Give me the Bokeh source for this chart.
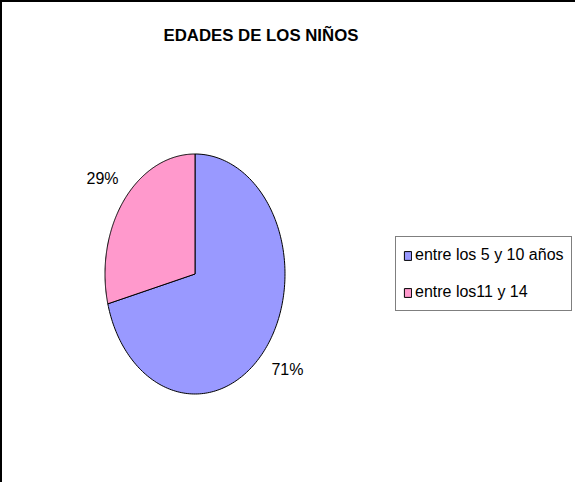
import numpy as np
from bokeh.plotting import figure
from bokeh.models import Range1d, ColumnDataSource, Legend, LegendItem
from bokeh.core.properties import value
from bokeh.embed import file_html
from bokeh.resources import INLINE

# ---- data ----
categories = ["entre los 5 y 10 años", "entre los11 y 14"]
values = [71, 29]
colors = ["#9999FF", "#FF99CC"]
title_text = "EDADES DE LOS NIÑOS"

# ---- geometry (pixels, page coordinates) ----
BORDER = 2
W, H = 575, 482
TOP = 47                       # title band above the frame
cx_page, cy_page = 202.5, 281.5
rx, ry = 90.0, 120.0           # pie drawn stretched vertically like the original
frame_left, frame_right = 8 + BORDER, 8 + BORDER + W
frame_top, frame_bottom = 8 + BORDER + TOP, 8 + BORDER + H

x_range = Range1d((frame_left - cx_page) / rx, (frame_right - cx_page) / rx)
y_range = Range1d((cy_page - frame_bottom) / ry, (cy_page - frame_top) / ry)

p = figure(width=W, height=H, x_range=x_range, y_range=y_range,
           output_backend="svg", toolbar_location=None,
           x_axis_type=None, y_axis_type=None,
           min_border_left=0, min_border_right=0, min_border_bottom=0,
           min_border_top=TOP)
p.grid.visible = False
p.outline_line_color = None
p.background_fill_color = "white"
p.border_fill_color = "white"
p.styles = {"border-left": "2px solid #000", "border-top": "2px solid #000"}

p.title.text = title_text
p.title.text_font = "Liberation Sans"
p.title.text_font_size = "16.8px"
p.title.text_font_style = "bold"
p.title.text_color = "black"
p.title.align = "left"
p.title.offset = 161

# ---- slices (unit circle; starting at 12 o'clock, clockwise) ----
total = float(sum(values))
fracs = [v / total for v in values]
xs, ys, lx, ly, ltxt = [], [], [], [], []
start = np.pi / 2
for f in fracs:
    end = start - 2 * np.pi * f
    t = np.linspace(start, end, 200)
    xs.append(np.concatenate([[0.0], np.cos(t), [0.0]]))
    ys.append(np.concatenate([[0.0], np.sin(t), [0.0]]))
    mid = (start + end) / 2
    lx.append(1.3 * np.cos(mid))
    ly.append(1.3 * np.sin(mid))
    ltxt.append(f"{round(100 * f)}%")
    start = end

src = ColumnDataSource(dict(xs=xs, ys=ys, color=colors, label=categories))
r = p.patches("xs", "ys", source=src, fill_color="color",
              line_color="black", line_width=1)

lab_src = ColumnDataSource(dict(x=lx, y=ly, text=ltxt))
p.text("x", "y", text="text", source=lab_src, text_align="center",
       text_baseline="middle", text_font=value("Liberation Sans"),
       text_font_size="16px", text_color="black")

legend = Legend(items=[LegendItem(label=categories[i], renderers=[r], index=i)
                       for i in range(len(categories))],
                location=(403 - frame_left, frame_bottom - 319))
legend.border_line_color = "black"
legend.border_line_width = 1.5
legend.padding = 7
legend.spacing = 15
legend.label_height = 22
legend.glyph_width = 9
legend.glyph_height = 11
legend.label_standoff = 3
legend.label_text_font = "Liberation Sans"
legend.label_text_font_size = "16px"
legend.label_text_color = "black"
legend.background_fill_alpha = 1
legend.margin = 0
p.add_layout(legend, "center")

open("out.html", "w").write(file_html(p, INLINE))
